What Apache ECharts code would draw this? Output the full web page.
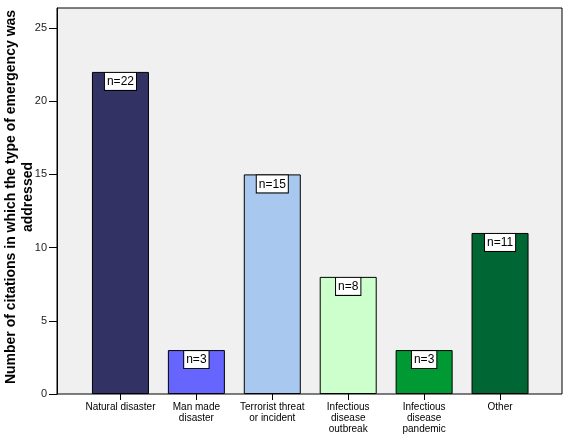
<!DOCTYPE html>
<html>
<head>
<meta charset="utf-8">
<script src="https://cdn.jsdelivr.net/npm/echarts@6/dist/echarts.min.js"></script>
<style>
  html, body { margin: 0; padding: 0; background: #fff; }
  #chart { width: 572px; height: 441px; }
</style>
</head>
<body>
<div id="chart"></div>
<script>
// categories, counts and bar colours
var categories = ['Natural disaster', 'Man made\ndisaster', 'Terrorist threat\nor incident',
                  'Infectious\ndisease\noutbreak', 'Infectious\ndisease\npandemic', 'Other'];
var counts = [22, 3, 15, 8, 3, 11];
var barColors = ['#323264', '#6666ff', '#a8c8f0', '#ccffcc', '#009933', '#006633'];
var yMax = 25;
var yStep = 5;

var chart = echarts.init(document.getElementById('chart'));

var option = {
    backgroundColor: '#ffffff',
    textStyle: { fontFamily: 'Arial, "Liberation Sans", sans-serif' },
    animation: false,
    grid: [
        // grey frame, reaches a bit above the last tick
        { left: 57, right: 10, top: 8, bottom: 47, show: true, outerBoundsMode: 'none',
          backgroundColor: '#f0f0f0', borderColor: '#000', borderWidth: 1 },
        // bars sit in a narrower band inside the frame
        { left: 82.5, right: 34, top: 28, bottom: 47, outerBoundsMode: 'none' },
        // value axis with ticks, 0..25
        { left: 57, right: 10, top: 28, bottom: 47, outerBoundsMode: 'none' }
    ],
    xAxis: [
        { gridIndex: 0, type: 'value', min: 0, max: 1, show: false },
        { gridIndex: 1, type: 'category', data: categories,
          axisLine: { show: false },
          axisTick: { show: true, alignWithLabel: true, length: 6, lineStyle: { color: '#000' } },
          axisLabel: { color: '#000', fontSize: 10, lineHeight: 11, margin: 8, interval: 0 } },
        { gridIndex: 2, type: 'value', min: 0, max: 1, show: false }
    ],
    yAxis: [
        { gridIndex: 0, type: 'value', min: 0, max: 1,
          name: 'Number of citations in which the type of emergency was\naddressed',
          nameLocation: 'middle', nameGap: 20, nameMoveOverlap: false,
          nameTextStyle: { fontWeight: 'bold', fontSize: 14, color: '#000', lineHeight: 17,
                           padding: [0, 0, 0, 8] },
          axisLine: { show: true, lineStyle: { color: '#000' } },
          axisTick: { show: false }, axisLabel: { show: false },
          splitLine: { show: false } },
        { gridIndex: 1, type: 'value', min: 0, max: yMax, show: false },
        { gridIndex: 2, type: 'value', min: 0, max: yMax, interval: yStep,
          axisLine: { show: false },
          axisTick: { show: true, length: 8, lineStyle: { color: '#000' } },
          axisLabel: { color: '#222', fontSize: 11, margin: 10 },
          splitLine: { show: false } }
    ],
    series: [{
        type: 'bar',
        xAxisIndex: 1,
        yAxisIndex: 1,
        barWidth: 57,
        data: counts.map(function (v, i) {
            return { value: v, itemStyle: { color: barColors[i] } };
        }),
        itemStyle: { borderColor: '#000', borderWidth: 1 },
        label: {
            show: true,
            position: 'insideTop',
            distance: 1,
            formatter: function (p) { return 'n=' + p.value; },
            color: '#000',
            fontSize: 12,
            backgroundColor: '#fff',
            borderColor: '#000',
            borderWidth: 1,
            padding: [3, 2, 2, 2]
        }
    }]
};

chart.setOption(option);
</script>
</body>
</html>
